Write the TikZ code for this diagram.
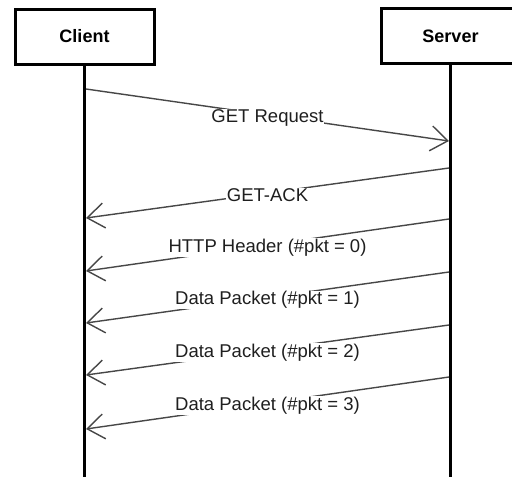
\documentclass[tikz,border=0pt]{standalone}
\usepackage{fontspec}
\setmainfont{Liberation Sans}
\usetikzlibrary{arrows.meta}
\begin{document}
\begin{tikzpicture}[x=1pt,y=-1pt,
  actor/.style={draw=black,line width=3pt,fill=white,minimum width=139pt,
    minimum height=55pt,inner sep=0pt,font=\fontsize{18}{20}\selectfont\bfseries},
  lifeline/.style={draw=black,line width=3pt},
  msg/.style={draw=black!72,line width=1.4pt,
    -{Straight Barb[length=17pt,width=25pt,line width=1.4pt]}},
  lbl/.style={fill=white,inner sep=0.6pt,yshift=-2.5pt,text=black!88,
    font=\fontsize{18.5}{20}\selectfont}]
  \useasboundingbox (0,0) rectangle (512,477);
  \clip (0,0) rectangle (512,477);
  \fill[white] (0,0) rectangle (512,477);

  % participants
  \node[actor] (client) at (84.5,36.5) {Client};
  \node[actor] (server) at (450.5,36) {Server};

  % lifelines
  \coordinate (cend) at (84.5,480);
  \coordinate (send) at (450.5,480);
  \draw[lifeline] (client.south) -- (cend);
  \draw[lifeline] (server.south) -- (send);

  % message end points on the lifelines
  \coordinate (c1) at (86,89);   \coordinate (s1) at (449,141);
  \coordinate (s2) at (449,168); \coordinate (c2) at (86,218);
  \coordinate (s3) at (449,219); \coordinate (c3) at (86,271);
  \coordinate (s4) at (449,272); \coordinate (c4) at (86,323);
  \coordinate (s5) at (449,325); \coordinate (c5) at (86,375);
  \coordinate (s6) at (449,377); \coordinate (c6) at (86,429);

  % messages
  \draw[msg] (c1) -- node[lbl] {GET Request} (s1);
  \draw[msg] (s2) -- node[lbl] {GET-ACK} (c2);
  \draw[msg] (s3) -- node[lbl] {HTTP Header (\#pkt = 0)} (c3);
  \draw[msg] (s4) -- node[lbl] {Data Packet (\#pkt = 1)} (c4);
  \draw[msg] (s5) -- node[lbl] {Data Packet (\#pkt = 2)} (c5);
  \draw[msg] (s6) -- node[lbl] {Data Packet (\#pkt = 3)} (c6);
\end{tikzpicture}
\end{document}
